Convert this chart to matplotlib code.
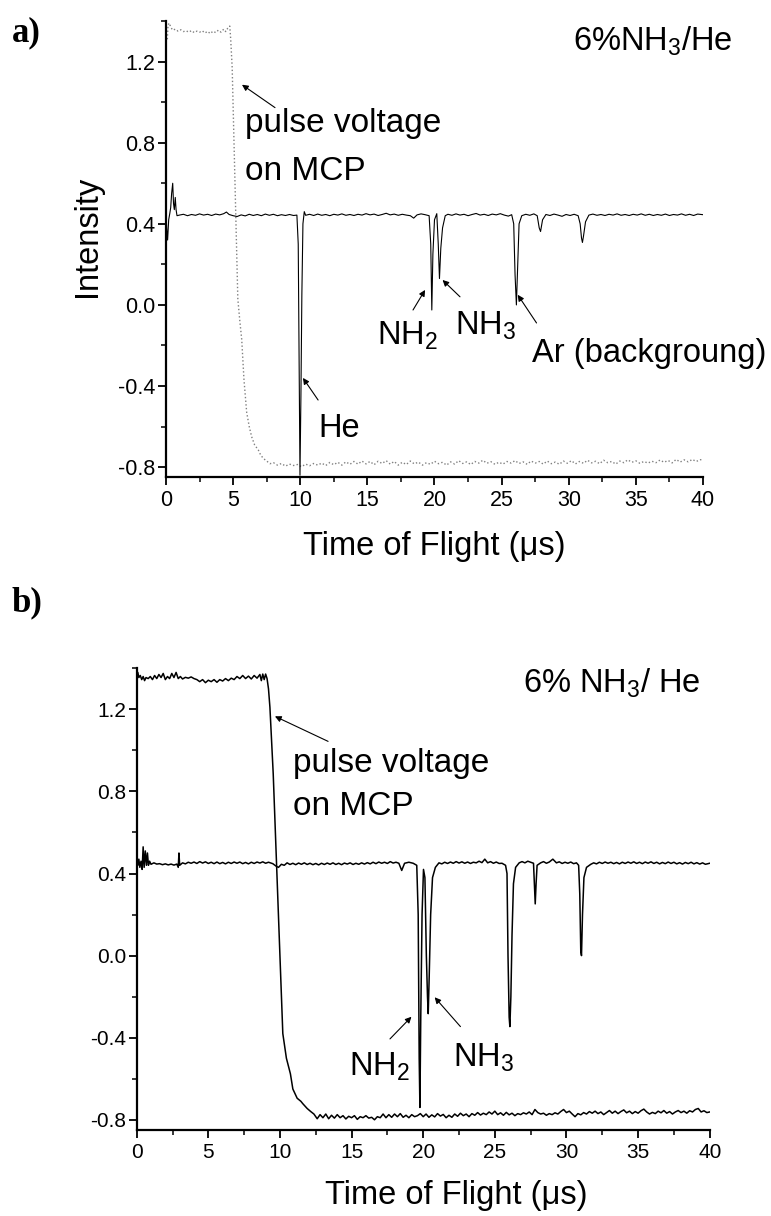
import numpy as np
import matplotlib
matplotlib.use("Agg")
import matplotlib.pyplot as plt
from matplotlib.ticker import MultipleLocator, FormatStrFormatter

# ---------------------------
# DATOS
# ---------------------------

# a) señal de iones (negra)
iones_a = [
    (0.00, 0.45), (0.05, 0.38), (0.12, 0.32), (0.20, 0.42), (0.28, 0.45), (0.35, 0.48),
    (0.42, 0.55), (0.50, 0.60), (0.56, 0.50), (0.62, 0.47), (0.69, 0.53), (0.75, 0.47),
    (0.82, 0.44), (1.00, 0.443), (1.30, 0.447), (1.60, 0.440), (1.90, 0.446), (2.20, 0.442),
    (2.50, 0.449), (2.80, 0.443), (3.10, 0.447), (3.40, 0.441), (3.70, 0.448), (4.00, 0.444),
    (4.30, 0.450), (4.50, 0.458), (4.70, 0.446), (5.00, 0.440), (5.30, 0.436), (5.60, 0.444),
    (5.90, 0.439), (6.20, 0.447), (6.50, 0.441), (6.80, 0.446), (7.10, 0.440), (7.40, 0.448),
    (7.70, 0.442), (8.00, 0.447), (8.30, 0.440), (8.60, 0.445), (8.90, 0.441), (9.20, 0.446),
    (9.50, 0.441), (9.75, 0.443), (9.85, 0.30), (9.92, -0.30), (9.98, -0.84), (10.05, -0.45),
    (10.12, 0.05), (10.20, 0.40), (10.30, 0.46), (10.40, 0.442), (10.70, 0.447), (11.00, 0.441),
    (11.30, 0.448), (11.60, 0.442), (11.90, 0.446), (12.20, 0.440), (12.50, 0.447), (12.80, 0.443),
    (13.10, 0.449), (13.40, 0.442), (13.70, 0.446), (14.00, 0.441), (14.30, 0.447), (14.60, 0.443),
    (14.90, 0.450), (15.20, 0.444), (15.50, 0.448), (15.80, 0.441), (16.10, 0.446), (16.40, 0.452),
    (16.70, 0.444), (17.00, 0.448), (17.30, 0.442), (17.60, 0.447), (17.90, 0.443), (18.20, 0.440),
    (18.45, 0.428), (18.70, 0.444), (19.00, 0.449), (19.30, 0.445), (19.60, 0.440), (19.72, 0.30),
    (19.80, -0.025), (19.88, 0.25), (20.00, 0.42), (20.17, 0.45), (20.28, 0.30), (20.37, 0.13),
    (20.47, 0.28), (20.60, 0.38), (20.80, 0.44), (21.00, 0.447), (21.30, 0.442), (21.60, 0.449),
    (21.90, 0.443), (22.20, 0.447), (22.50, 0.440), (22.80, 0.446), (23.10, 0.451), (23.40, 0.443),
    (23.70, 0.447), (24.00, 0.441), (24.30, 0.448), (24.60, 0.444), (24.90, 0.450), (25.20, 0.443),
    (25.50, 0.438), (25.75, 0.445), (25.90, 0.40), (26.00, 0.15), (26.10, 0.00), (26.20, 0.20),
    (26.30, 0.40), (26.50, 0.44), (26.80, 0.447), (27.10, 0.442), (27.40, 0.449), (27.65, 0.440),
    (27.80, 0.38), (27.90, 0.362), (28.05, 0.42), (28.30, 0.446), (28.60, 0.441), (28.90, 0.448),
    (29.20, 0.443), (29.50, 0.437), (29.80, 0.446), (30.10, 0.441), (30.40, 0.447), (30.70, 0.440),
    (30.85, 0.40), (30.95, 0.33), (31.02, 0.308), (31.10, 0.34), (31.25, 0.41), (31.50, 0.443),
    (31.80, 0.448), (32.10, 0.442), (32.40, 0.446), (32.70, 0.441), (33.00, 0.447), (33.30, 0.443),
    (33.60, 0.449), (33.90, 0.442), (34.20, 0.446), (34.50, 0.441), (34.80, 0.447), (35.10, 0.443),
    (35.40, 0.449), (35.70, 0.442), (36.00, 0.447), (36.30, 0.441), (36.60, 0.446), (36.90, 0.442),
    (37.20, 0.448), (37.50, 0.441), (37.80, 0.446), (38.10, 0.443), (38.40, 0.449), (38.70, 0.442),
    (39.00, 0.447), (39.30, 0.441), (39.60, 0.448), (40.00, 0.445),
]

# a) pulso de tensión en el MCP (gris punteado)
pulso_a = [
    (0.10, 1.31), (0.15, 1.38), (0.25, 1.39), (0.35, 1.37), (0.50, 1.355), (0.70, 1.36),
    (0.90, 1.35), (1.10, 1.357), (1.30, 1.348), (1.50, 1.352), (1.70, 1.345), (1.90, 1.353),
    (2.10, 1.343), (2.30, 1.35), (2.50, 1.345), (2.70, 1.352), (2.90, 1.341), (3.10, 1.349),
    (3.30, 1.338), (3.50, 1.35), (3.70, 1.343), (3.90, 1.355), (4.10, 1.345), (4.30, 1.36),
    (4.45, 1.348), (4.60, 1.365), (4.75, 1.375), (4.82, 1.31), (4.93, 1.17), (5.05, 0.85),
    (5.17, 0.52), (5.35, 0.03), (5.50, -0.08), (5.64, -0.17), (5.81, -0.37), (6.01, -0.53),
    (6.20, -0.60), (6.38, -0.65), (6.60, -0.69), (6.88, -0.716), (7.05, -0.74), (7.25, -0.757),
    (7.50, -0.77), (7.75, -0.783), (8.00, -0.778), (8.30, -0.79), (8.60, -0.782), (8.90, -0.795),
    (9.20, -0.785), (9.50, -0.792), (9.80, -0.787), (10.10, -0.798), (10.40, -0.785), (10.70, -0.793),
    (11.00, -0.782), (11.30, -0.79), (11.60, -0.78), (11.90, -0.792), (12.20, -0.777), (12.50, -0.788),
    (12.80, -0.776), (13.10, -0.79), (13.40, -0.774), (13.70, -0.786), (14.00, -0.772), (14.30, -0.785),
    (14.60, -0.77), (14.90, -0.784), (15.20, -0.772), (15.50, -0.788), (15.80, -0.771), (16.10, -0.782),
    (16.40, -0.768), (16.70, -0.785), (17.00, -0.772), (17.30, -0.79), (17.60, -0.776), (17.90, -0.787),
    (18.20, -0.77), (18.50, -0.784), (18.80, -0.775), (19.10, -0.79), (19.40, -0.778), (19.70, -0.786),
    (20.00, -0.771), (20.30, -0.783), (20.60, -0.776), (20.90, -0.79), (21.20, -0.774), (21.50, -0.785),
    (21.80, -0.768), (22.10, -0.782), (22.40, -0.774), (22.70, -0.787), (23.00, -0.772), (23.30, -0.78),
    (23.60, -0.766), (23.90, -0.781), (24.20, -0.773), (24.50, -0.786), (24.80, -0.776), (25.10, -0.785),
    (25.40, -0.772), (25.70, -0.78), (26.00, -0.768), (26.30, -0.782), (26.60, -0.774), (26.90, -0.786),
    (27.20, -0.77), (27.50, -0.78), (27.80, -0.772), (28.10, -0.785), (28.40, -0.77), (28.70, -0.783),
    (29.00, -0.775), (29.30, -0.786), (29.60, -0.77), (29.90, -0.781), (30.20, -0.768), (30.50, -0.784),
    (30.80, -0.772), (31.10, -0.781), (31.40, -0.766), (31.70, -0.779), (32.00, -0.771), (32.30, -0.783),
    (32.60, -0.766), (32.90, -0.778), (33.20, -0.772), (33.50, -0.785), (33.80, -0.77), (34.10, -0.778),
    (34.40, -0.764), (34.70, -0.776), (35.00, -0.769), (35.30, -0.781), (35.60, -0.772), (35.90, -0.78),
    (36.20, -0.771), (36.50, -0.778), (36.80, -0.765), (37.10, -0.776), (37.40, -0.767), (37.70, -0.779),
    (38.00, -0.762), (38.30, -0.775), (38.60, -0.764), (38.90, -0.774), (39.20, -0.762), (39.50, -0.772),
    (39.80, -0.763), (40.00, -0.768),
]

# b) pulso de tensión en el MCP
pulso_b = [
    (0.00, 1.37), (0.08, 1.38), (0.15, 1.355), (0.25, 1.365), (0.35, 1.345), (0.45, 1.36),
    (0.55, 1.34), (0.65, 1.355), (0.80, 1.35), (0.95, 1.36), (1.10, 1.345), (1.25, 1.365),
    (1.40, 1.35), (1.55, 1.37), (1.70, 1.355), (1.85, 1.375), (2.00, 1.345), (2.15, 1.36),
    (2.30, 1.35), (2.45, 1.375), (2.60, 1.355), (2.75, 1.38), (2.90, 1.35), (3.05, 1.36),
    (3.20, 1.348), (3.40, 1.356), (3.60, 1.352), (3.80, 1.358), (4.00, 1.35), (4.20, 1.345),
    (4.40, 1.335), (4.60, 1.345), (4.80, 1.33), (5.00, 1.342), (5.20, 1.335), (5.40, 1.345),
    (5.60, 1.332), (5.80, 1.345), (6.00, 1.338), (6.20, 1.35), (6.40, 1.34), (6.60, 1.352),
    (6.80, 1.345), (7.00, 1.36), (7.20, 1.35), (7.40, 1.365), (7.60, 1.35), (7.80, 1.362),
    (8.00, 1.348), (8.20, 1.365), (8.40, 1.352), (8.60, 1.37), (8.70, 1.34), (8.80, 1.372),
    (8.90, 1.345), (9.00, 1.372), (9.10, 1.35), (9.20, 1.30), (9.30, 1.21), (9.53, 0.886),
    (9.77, 0.43), (10.00, 0.00), (10.20, -0.38), (10.45, -0.50), (10.73, -0.576), (10.90, -0.65),
    (11.03, -0.67), (11.20, -0.695), (11.46, -0.71), (11.60, -0.722), (11.90, -0.745), (12.15, -0.76),
    (12.37, -0.772), (12.60, -0.795), (12.80, -0.775), (13.00, -0.79), (13.20, -0.772), (13.40, -0.795),
    (13.60, -0.778), (13.80, -0.792), (14.00, -0.775), (14.20, -0.79), (14.40, -0.78), (14.60, -0.796),
    (14.80, -0.783), (15.00, -0.79), (15.20, -0.78), (15.40, -0.798), (15.60, -0.785), (15.80, -0.79),
    (16.00, -0.78), (16.20, -0.792), (16.40, -0.788), (16.60, -0.80), (16.80, -0.785), (17.00, -0.79),
    (17.20, -0.772), (17.40, -0.79), (17.60, -0.775), (17.80, -0.788), (18.00, -0.772), (18.20, -0.785),
    (18.40, -0.77), (18.60, -0.788), (18.80, -0.778), (19.00, -0.79), (19.20, -0.775), (19.40, -0.785),
    (19.60, -0.78), (19.80, -0.77), (20.00, -0.785), (20.20, -0.772), (20.40, -0.788), (20.60, -0.776),
    (20.80, -0.786), (21.00, -0.77), (21.20, -0.782), (21.40, -0.774), (21.60, -0.79), (21.80, -0.778),
    (22.00, -0.788), (22.20, -0.772), (22.40, -0.783), (22.60, -0.768), (22.80, -0.78), (23.00, -0.772),
    (23.20, -0.785), (23.40, -0.77), (23.60, -0.778), (23.80, -0.765), (24.00, -0.777), (24.20, -0.768),
    (24.40, -0.775), (24.60, -0.762), (24.80, -0.772), (25.00, -0.758), (25.20, -0.775), (25.40, -0.766),
    (25.60, -0.778), (25.80, -0.764), (26.00, -0.776), (26.20, -0.768), (26.40, -0.78), (26.60, -0.77),
    (26.80, -0.775), (27.00, -0.766), (27.20, -0.772), (27.40, -0.762), (27.60, -0.775), (27.80, -0.75),
    (28.00, -0.765), (28.20, -0.772), (28.40, -0.768), (28.60, -0.778), (28.80, -0.77), (29.00, -0.775),
    (29.20, -0.766), (29.40, -0.772), (29.60, -0.76), (29.80, -0.75), (30.00, -0.765), (30.20, -0.758),
    (30.40, -0.772), (30.60, -0.785), (30.80, -0.77), (31.00, -0.776), (31.20, -0.765), (31.40, -0.772),
    (31.60, -0.76), (31.80, -0.768), (32.00, -0.758), (32.20, -0.77), (32.40, -0.762), (32.60, -0.775),
    (32.80, -0.765), (33.00, -0.755), (33.20, -0.768), (33.40, -0.758), (33.60, -0.77), (33.80, -0.76),
    (34.00, -0.752), (34.20, -0.766), (34.40, -0.758), (34.60, -0.77), (34.80, -0.76), (35.00, -0.768),
    (35.20, -0.756), (35.40, -0.748), (35.60, -0.762), (35.80, -0.772), (36.00, -0.764), (36.20, -0.77),
    (36.40, -0.758), (36.60, -0.766), (36.80, -0.755), (37.00, -0.768), (37.20, -0.76), (37.40, -0.772),
    (37.60, -0.762), (37.80, -0.755), (38.00, -0.765), (38.20, -0.758), (38.40, -0.768), (38.60, -0.756),
    (38.80, -0.762), (39.00, -0.75), (39.20, -0.745), (39.40, -0.762), (39.60, -0.756), (39.80, -0.765),
    (40.00, -0.762),
]

# b) señal de iones
iones_b = [
    (0.00, 0.45), (0.08, 0.44), (0.15, 0.47), (0.22, 0.43), (0.30, 0.46), (0.38, 0.42),
    (0.45, 0.53), (0.52, 0.43), (0.60, 0.51), (0.68, 0.44), (0.75, 0.50), (0.82, 0.44),
    (0.90, 0.46), (1.00, 0.445), (1.20, 0.452), (1.40, 0.446), (1.60, 0.448), (1.80, 0.443),
    (2.00, 0.447), (2.20, 0.442), (2.40, 0.446), (2.60, 0.441), (2.80, 0.446), (2.90, 0.43),
    (2.95, 0.50), (3.00, 0.44), (3.20, 0.452), (3.40, 0.447), (3.60, 0.455), (3.80, 0.45),
    (4.00, 0.456), (4.20, 0.449), (4.40, 0.458), (4.60, 0.451), (4.80, 0.457), (5.00, 0.449),
    (5.20, 0.455), (5.40, 0.448), (5.60, 0.456), (5.80, 0.448), (6.00, 0.454), (6.20, 0.447),
    (6.40, 0.455), (6.60, 0.449), (6.80, 0.456), (7.00, 0.45), (7.20, 0.456), (7.40, 0.448),
    (7.60, 0.454), (7.80, 0.447), (8.00, 0.455), (8.20, 0.449), (8.40, 0.456), (8.60, 0.451),
    (8.80, 0.457), (9.00, 0.45), (9.20, 0.455), (9.50, 0.448), (9.75, 0.435), (9.90, 0.43),
    (10.10, 0.445), (10.30, 0.44), (10.50, 0.452), (10.70, 0.444), (10.90, 0.45), (11.10, 0.443),
    (11.30, 0.451), (11.50, 0.445), (11.70, 0.452), (11.90, 0.444), (12.10, 0.45), (12.30, 0.443),
    (12.50, 0.449), (12.70, 0.442), (12.90, 0.45), (13.10, 0.444), (13.30, 0.451), (13.50, 0.445),
    (13.70, 0.452), (13.90, 0.444), (14.10, 0.45), (14.30, 0.443), (14.50, 0.451), (14.70, 0.446),
    (14.90, 0.452), (15.10, 0.444), (15.30, 0.45), (15.50, 0.445), (15.70, 0.452), (15.90, 0.446),
    (16.10, 0.453), (16.30, 0.447), (16.50, 0.455), (16.70, 0.448), (16.90, 0.456), (17.10, 0.45),
    (17.30, 0.455), (17.50, 0.449), (17.70, 0.458), (17.90, 0.451), (18.10, 0.455), (18.30, 0.45),
    (18.50, 0.415), (18.70, 0.45), (19.00, 0.455), (19.30, 0.45), (19.55, 0.44), (19.65, 0.20),
    (19.72, -0.50), (19.77, -0.74), (19.83, -0.30), (19.92, 0.20), (20.02, 0.42), (20.12, 0.38),
    (20.22, 0.00), (20.30, -0.20), (20.35, -0.283), (20.42, -0.10), (20.52, 0.20), (20.65, 0.38),
    (20.85, 0.43), (21.10, 0.452), (21.30, 0.447), (21.50, 0.455), (21.70, 0.449), (21.90, 0.456),
    (22.10, 0.45), (22.30, 0.458), (22.50, 0.451), (22.70, 0.457), (22.90, 0.45), (23.10, 0.456),
    (23.30, 0.449), (23.50, 0.455), (23.70, 0.452), (23.90, 0.46), (24.10, 0.453), (24.30, 0.47),
    (24.50, 0.452), (24.70, 0.458), (24.90, 0.45), (25.10, 0.456), (25.30, 0.449), (25.50, 0.45),
    (25.75, 0.44), (25.85, 0.40), (25.92, 0.00), (26.00, -0.30), (26.05, -0.346), (26.12, -0.20),
    (26.20, 0.10), (26.30, 0.35), (26.45, 0.43), (26.70, 0.452), (26.90, 0.458), (27.10, 0.452),
    (27.30, 0.46), (27.50, 0.455), (27.70, 0.45), (27.76, 0.35), (27.82, 0.252), (27.88, 0.35),
    (27.95, 0.44), (28.20, 0.452), (28.40, 0.458), (28.60, 0.45), (28.80, 0.456), (29.05, 0.47),
    (29.30, 0.452), (29.50, 0.457), (29.70, 0.449), (29.90, 0.455), (30.10, 0.45), (30.30, 0.456),
    (30.50, 0.448), (30.70, 0.452), (30.85, 0.44), (30.93, 0.30), (31.00, 0.02), (31.05, 0.00),
    (31.12, 0.20), (31.22, 0.38), (31.40, 0.43), (31.70, 0.445), (31.90, 0.452), (32.10, 0.447),
    (32.30, 0.455), (32.50, 0.449), (32.70, 0.456), (32.90, 0.45), (33.10, 0.455), (33.30, 0.448),
    (33.50, 0.454), (33.70, 0.447), (33.90, 0.455), (34.10, 0.449), (34.30, 0.456), (34.50, 0.45),
    (34.70, 0.457), (34.90, 0.449), (35.10, 0.455), (35.30, 0.448), (35.50, 0.456), (35.70, 0.45),
    (35.90, 0.457), (36.10, 0.449), (36.30, 0.455), (36.50, 0.447), (36.70, 0.454), (36.90, 0.448),
    (37.10, 0.456), (37.30, 0.449), (37.50, 0.455), (37.70, 0.447), (37.90, 0.453), (38.10, 0.446),
    (38.30, 0.454), (38.50, 0.448), (38.70, 0.455), (38.90, 0.447), (39.10, 0.453), (39.30, 0.446),
    (39.50, 0.452), (39.70, 0.445), (40.00, 0.45),
]

# ---------------------------
# CONFIGURACIÓN
# ---------------------------

plt.rcParams["font.family"] = ["Liberation Sans", "DejaVu Sans"]
plt.rcParams["mathtext.fontset"] = "custom"
plt.rcParams["mathtext.rm"] = "Liberation Sans"
plt.rcParams["mathtext.it"] = "Liberation Sans:italic"

TAM_TEXTO = 23.5
LABEL_TOF = "Time of Flight (\u03bcs)"


def config_axes(ax, tam_ticks):
    ax.set_xlim(0, 40)
    ax.set_ylim(-0.85, 1.4)
    ax.spines["top"].set_visible(False)
    ax.spines["right"].set_visible(False)
    ax.spines["left"].set_linewidth(1.6)
    ax.spines["bottom"].set_linewidth(1.6)
    ax.xaxis.set_major_locator(MultipleLocator(5))
    ax.xaxis.set_minor_locator(MultipleLocator(2.5))
    ax.yaxis.set_major_locator(MultipleLocator(0.4))
    ax.yaxis.set_minor_locator(MultipleLocator(0.2))
    ax.yaxis.set_major_formatter(FormatStrFormatter("%.1f"))
    ax.tick_params(which="major", direction="out", length=6, width=1.3, labelsize=tam_ticks)
    ax.tick_params(which="minor", direction="out", length=3.5, width=1.1)
    ax.tick_params(axis="y", pad=1.5)
    ax.tick_params(axis="x", pad=3)


def flecha(ax, cola, punta):
    ax.annotate("", xy=punta, xytext=cola,
                arrowprops=dict(arrowstyle="-|>", color="black", lw=0.8,
                                mutation_scale=9, shrinkA=0, shrinkB=0))


fig = plt.figure(figsize=(7.71, 12.16), dpi=100)

# ---------------------------
# PANEL a)
# ---------------------------
ax_a = fig.add_axes([0.2153, 0.6075, 0.6965, 0.3752])
xa, ya = np.array(iones_a).T
xp, yp = np.array(pulso_a).T
ax_a.plot(xp, yp, color="0.5", lw=1.0, ls=":")
ax_a.plot(xa, ya, color="black", lw=0.8)
config_axes(ax_a, 15.5)

ax_a.set_xlabel(LABEL_TOF, fontsize=TAM_TEXTO, va="baseline")
ax_a.xaxis.set_label_coords(0.499, -0.170)
ax_a.set_ylabel("Intensity", fontsize=TAM_TEXTO)
ax_a.yaxis.set_label_coords(-0.117, 0.527)

ax_a.text(30.3, 1.254, "6%NH$_3$/He", fontsize=TAM_TEXTO, va="baseline", clip_on=False)
ax_a.text(5.9, 0.854, "pulse voltage", fontsize=24, va="baseline")
ax_a.text(5.9, 0.617, "on MCP", fontsize=24, va="baseline")
flecha(ax_a, (8.12, 0.973), (5.66, 1.086))
ax_a.text(11.33, -0.652, "He", fontsize=TAM_TEXTO, va="baseline")
flecha(ax_a, (11.33, -0.469), (10.2, -0.36))
ax_a.text(15.7, -0.198, "NH$_2$", fontsize=TAM_TEXTO, va="baseline")
flecha(ax_a, (18.4, -0.025), (19.3, 0.074))
ax_a.text(21.5, -0.148, "NH$_3$", fontsize=TAM_TEXTO, va="baseline")
flecha(ax_a, (21.9, 0.04), (20.6, 0.123))
ax_a.text(27.3, -0.281, "Ar (backgroung)", fontsize=TAM_TEXTO, va="baseline", clip_on=False)
flecha(ax_a, (27.6, -0.089), (26.2, 0.05))

# ---------------------------
# PANEL b)
# ---------------------------
ax_b = fig.add_axes([0.1773, 0.0707, 0.7432, 0.3797])
xb, yb = np.array(iones_b).T
xq, yq = np.array(pulso_b).T
ax_b.plot(xq, yq, color="black", lw=1.1)
ax_b.plot(xb, yb, color="black", lw=1.1)
config_axes(ax_b, 15)

ax_b.set_xlabel(LABEL_TOF, fontsize=TAM_TEXTO, va="baseline")
ax_b.xaxis.set_label_coords(0.557, -0.160)

ax_b.text(27.0, 1.284, "6% NH$_3$/ He", fontsize=TAM_TEXTO, va="baseline")
ax_b.text(10.93, 0.894, "pulse voltage", fontsize=24, va="baseline")
ax_b.text(10.93, 0.683, "on MCP", fontsize=24, va="baseline")
flecha(ax_b, (13.36, 1.044), (9.65, 1.166))
ax_b.text(14.85, -0.585, "NH$_2$", fontsize=TAM_TEXTO, va="baseline")
flecha(ax_b, (17.68, -0.406), (19.18, -0.298))
ax_b.text(22.1, -0.54, "NH$_3$", fontsize=TAM_TEXTO, va="baseline")
flecha(ax_b, (22.6, -0.346), (20.8, -0.203))

# etiquetas de panel
fig.text(12 / 771, 1 - 41 / 1216, "a)", fontsize=25, fontweight="bold",
         family="Liberation Serif", va="baseline")
fig.text(12 / 771, 1 - 611 / 1216, "b)", fontsize=25, fontweight="bold",
         family="Liberation Serif", va="baseline")

fig.savefig("out.png", dpi=100)
